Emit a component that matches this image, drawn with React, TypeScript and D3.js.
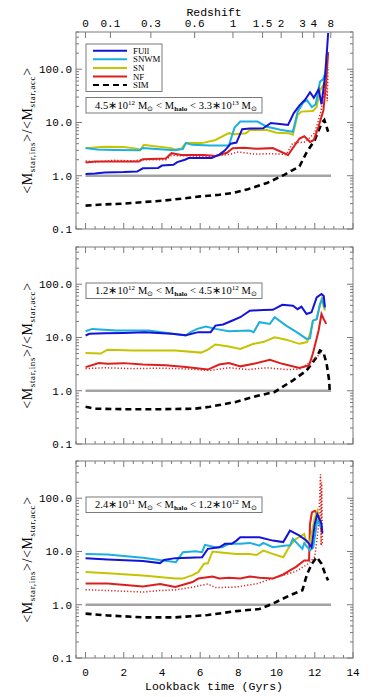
import React from 'react'
import * as d3 from 'd3'

type Pt = [number, number]

// tick labels
const redshiftTicks = [0, 0.1, 0.3, 0.6, 1, 1.5, 2, 3, 4, 8]
const timeTicks = [0, 2, 4, 6, 8, 10, 12, 14]
const ratioTicks = [0.1, 1, 10, 100]
const legendNames = ['FUll', 'SNWM', 'SN', 'NF', 'SIM']
// halo mass bins: [lo mantissa, lo exponent, hi mantissa, hi exponent]
const massBins = [['4.5', '12', '3.3', '13'], ['1.2', '12', '4.5', '12'], ['2.4', '11', '1.2', '12']]

// panel 1: 4.5e12 - 3.3e13
const fullHigh: Pt[] = [[0,1.08],[0.5,1.1],[1,1.15],[2,1.17],[2.7,1.2],[3.0,1.38],[3.8,1.4],[4.0,1.55],[4.6,1.6],[4.8,1.8],[5.2,2.0],[5.4,2.15],[6.6,2.15],[7.0,2.5],[7.3,3.0],[7.6,4.0],[7.9,4.2],[8.2,7.5],[8.6,7.7],[9.3,7.8],[9.7,9.8],[10.4,9.2],[10.6,9.0],[10.9,15],[11.2,21],[11.5,27],[11.75,37],[11.95,29],[12.2,42],[12.35,22],[12.55,80],[12.7,480]]
const snwmHigh: Pt[] = [[0,3.3],[0.6,3.1],[1.5,3.05],[2.8,3.0],[3.0,3.3],[3.5,3.2],[4.7,3.0],[5.1,3.2],[5.25,4.1],[5.6,3.8],[6.5,3.7],[7.5,3.7],[7.8,8.0],[8.1,10.4],[9.0,10.4],[9.5,8.3],[10.2,7.3],[10.85,6.7],[11.1,15.7],[11.4,24],[11.6,26],[11.85,19.5],[12.05,22],[12.27,58],[12.45,66],[12.6,100]]
const snHigh: Pt[] = [[0,3.3],[0.5,3.4],[1.0,3.5],[2.0,3.45],[2.75,3.2],[2.85,3.0],[3.05,3.8],[3.5,3.6],[4.5,3.3],[4.7,3.1],[5.0,3.2],[5.25,4.1],[6.1,4.1],[6.8,4.7],[7.5,6.3],[7.8,6.0],[8.4,6.3],[8.6,7.2],[9.5,7.2],[10.0,6.4],[10.6,6.3],[10.85,5.9],[11.1,13.8],[11.3,16],[11.9,16.4],[12.1,19.7],[12.27,40],[12.5,54],[12.62,195]]
const nfHigh: Pt[] = [[0,1.77],[0.5,1.85],[1.5,1.85],[2.8,1.85],[3.0,2.05],[4.2,2.1],[4.5,2.65],[5.0,2.45],[6.2,2.45],[6.8,2.35],[7.4,2.7],[7.7,3.3],[8.3,3.35],[9.0,3.2],[9.8,3.3],[10.6,2.45],[11.2,5.0],[11.45,5.5],[11.75,4.3],[11.95,4.7],[12.2,8.4],[12.45,17],[12.6,60],[12.7,210]]
const nfDotHigh: Pt[] = [[0,1.9],[0.5,1.8],[1.5,1.95],[2.5,1.9],[3.0,2.0],[4.2,2.0],[4.5,2.4],[5.5,2.35],[6.5,2.3],[7.5,2.5],[8.0,2.8],[8.8,2.55],[9.8,2.6],[10.5,2.5],[10.85,4.1],[11.5,4.3],[12.0,6.4],[12.3,15],[12.5,40],[12.6,90],[12.65,25],[12.7,110]]
const simHigh: Pt[] = [[0,0.275],[1,0.29],[2,0.3],[3,0.32],[4,0.34],[5,0.37],[6,0.41],[7,0.44],[7.7,0.475],[8.5,0.56],[9.5,0.73],[10.4,1.04],[11.2,1.5],[11.55,2.65],[12.0,4.7],[12.35,9.6],[12.5,11.1],[12.7,6.7]]

// panel 2: 1.2e12 - 4.5e12
const fullMid: Pt[] = [[0,10.9],[0.2,11.7],[1,12],[2,12.2],[3.1,12.6],[4.5,11.8],[5.25,11.0],[5.9,12.6],[6.55,12.6],[6.8,16.7],[7.2,17.5],[7.6,20.2],[8.1,24],[8.6,31.9],[9.3,32.8],[9.8,33],[10.3,41],[10.86,39.6],[11.1,34],[11.3,38],[11.57,27.6],[11.83,29.7],[12.1,56.7],[12.35,65.6],[12.47,60],[12.53,37]]
const snwmMid: Pt[] = [[0,13.1],[0.35,14.5],[1.6,13.5],[3.3,13.5],[5.25,10.9],[5.5,12.6],[5.85,14.5],[6.3,16],[6.8,14.5],[7.5,13.1],[8.6,13.5],[8.8,12.6],[9.1,19.4],[9.65,18],[9.9,24],[10.5,16.7],[11.05,12.6],[11.57,9.4],[11.75,9.6],[11.9,20.7],[12.1,22],[12.27,42.5],[12.4,52.7],[12.53,35]]
const snMid: Pt[] = [[0,5.1],[0.8,5.0],[1.15,5.9],[2.5,5.7],[4.7,5.7],[6.05,5.2],[6.4,5.9],[6.8,7.4],[7.5,6.8],[8.1,6.1],[8.8,7.6],[9.3,8.2],[9.9,10.1],[10.5,9.1],[11.2,7.6],[11.6,8.2],[11.75,11.7],[11.9,20.7],[12.1,22],[12.35,52.7],[12.53,32]]
const nfMid: Pt[] = [[0,2.78],[0.7,3.3],[1.15,3.2],[2.0,3.3],[3.0,3.1],[4.2,3.0],[5.25,2.78],[6.4,2.5],[7.0,3.1],[7.5,3.3],[7.9,3.0],[8.1,2.87],[8.8,3.2],[9.65,3.8],[10.3,3.2],[11.2,2.67],[11.7,3.0],[11.9,5.0],[12.2,13.5],[12.35,27.6],[12.47,22],[12.6,18]]
const nfDotMid: Pt[] = [[0,2.6],[1,2.7],[2.5,2.6],[4,2.65],[5.5,2.55],[6.5,2.4],[7.5,2.7],[8.5,2.5],[9.5,2.7],[10.5,2.5],[11.2,2.55],[11.75,3.4],[12.1,4.3],[12.3,5]]
const simMid: Pt[] = [[0,0.5],[0.5,0.46],[2,0.45],[4,0.45],[5.7,0.46],[6.5,0.5],[7.0,0.54],[7.9,0.62],[8.8,0.77],[9.9,0.95],[10.86,1.57],[11.57,2.4],[12.1,4.3],[12.27,5.7],[12.45,5.3],[12.62,3.2],[12.75,1.57],[12.78,1.0]]

// panel 3: 2.4e11 - 1.2e12
const fullLow: Pt[] = [[0,7.5],[1.15,7.1],[3.0,6.6],[3.9,6.05],[4.1,6.9],[4.7,7.5],[6.1,7.8],[6.4,11.2],[7.0,12],[7.3,13.9],[7.65,13.9],[7.9,16],[8.1,18.5],[9.1,18.5],[9.8,16],[10.35,15],[10.7,24.6],[11.2,19.9],[11.57,16],[11.83,12],[12.0,33],[12.13,50],[12.35,33],[12.4,22]]
const snwmLow: Pt[] = [[0,9.0],[1.15,8.8],[3.0,7.6],[4.73,6.3],[5.1,9.7],[5.75,10.1],[6.1,9.7],[6.25,13.3],[6.8,12],[7.15,12],[7.5,13.9],[8.1,13.9],[8.6,14.5],[9.1,12.9],[9.3,14.5],[9.8,12],[10.5,12.9],[10.7,12.9],[10.85,17.3],[11.35,11.2],[11.45,14.4],[11.75,10.4],[11.92,12],[12.13,38],[12.35,28.5]]
const snLow: Pt[] = [[0,4.1],[1.15,3.9],[3.0,3.55],[4.7,3.1],[5.1,3.1],[5.6,3.6],[5.9,4.1],[6.2,5.9],[6.4,6],[6.65,10],[7.2,9.5],[7.9,9],[8.6,9],[8.95,8.6],[9.3,10.4],[9.8,9],[10.35,7.8],[10.7,12.9],[11.0,17],[11.45,21.3],[11.55,15],[11.75,15],[12.0,43.6],[12.13,58],[12.35,28]]
const nfLow: Pt[] = [[0,2.5],[1.15,2.5],[3.0,2.2],[3.9,2.45],[4.7,2.15],[5.6,2.67],[5.9,3.1],[6.65,3.4],[7.0,3.1],[7.5,3.2],[8.1,3.1],[8.6,3.4],[9.1,3.2],[9.8,3.1],[10.35,3.7],[10.7,4.4],[11.0,5.1],[11.45,6.8],[11.7,6.8],[11.75,33],[11.85,54],[12.0,58],[12.2,47],[12.35,24.6]]
const nfDotLow: Pt[] = [[0,1.92],[1.15,1.85],[3.0,1.73],[3.9,1.85],[4.7,1.9],[5.5,2.1],[6.4,2.45],[6.8,2.1],[7.9,2.15],[9,2.5],[10,3.3],[11,4.2],[11.7,6],[12.0,8],[12.2,30],[12.3,282],[12.33,13],[12.36,200],[12.4,13]]
const simLow: Pt[] = [[0,0.68],[1.15,0.63],[3,0.58],[4.7,0.58],[6.4,0.64],[7.9,0.76],[9.1,0.83],[9.8,1.05],[10.7,1.5],[11.35,1.87],[11.6,3.8],[11.85,5.9],[12.1,7.8],[12.35,5.9],[12.57,3.55],[12.7,2.87]]

const unity: Pt[] = [[0, 1], [12.85, 1]]

const panels = [
  {full: fullHigh, snwm: snwmHigh, sn: snHigh, nf: nfHigh, nfDot: nfDotHigh, sim: simHigh},
  {full: fullMid, snwm: snwmMid, sn: snMid, nf: nfMid, nfDot: nfDotMid, sim: simMid},
  {full: fullLow, snwm: snwmLow, sn: snLow, nf: nfLow, nfDot: nfDotLow, sim: simLow},
]

const BLUE = '#1414d6'
const CYAN = '#1cb0e0'
const YELLOW = '#c4c400'
const RED = '#dc1f1f'
const FRAME = '#7a7a7a'
const legendColors = [BLUE, CYAN, YELLOW, RED, '#000']

const W = 374
const H = 697
const LEFT = 76
const RIGHT = 353
const TOPS = [32, 247, 461]
const PH = 197
const TXT = 'Liberation Mono, monospace'
const SERIF = 'Liberation Serif, serif'

// lookback time (Gyr) for flat LCDM, H0=70, Om=0.3
const lookback = (z: number) => {
  const hubble = 977.8 / 70
  const ol = 0.7, om = 0.3
  const age = (zz: number) => (2 / (3 * Math.sqrt(ol))) * hubble * Math.asinh(Math.sqrt(ol / om) * Math.pow(1 + zz, -1.5))
  return age(0) - age(z)
}

const x = d3.scaleLinear().domain([-0.5, 14]).range([LEFT, RIGHT])
const fmt = d3.format('.1f')

const MassLabel = ({bin, px, py}: {bin: string[], px: number, py: number}) => (
  <g>
    <rect x={86} y={py} width={176} height={15.5} fill="white" stroke={FRAME} strokeWidth={1}/>
    <text x={px} y={py + 11.2} fontFamily={SERIF} fontSize={10.5} textLength={162} lengthAdjust="spacing">
      {bin[0]}∗10<tspan dy={-4} fontSize={7}>{bin[1]}</tspan>
      <tspan dy={4}> M</tspan><tspan dy={2} fontSize={7}>⊙</tspan>
      <tspan dy={-2}> &lt; M</tspan><tspan dy={2} fontSize={7} fontWeight="bold">halo</tspan>
      <tspan dy={-2}> &lt; {bin[2]}∗10</tspan><tspan dy={-4} fontSize={7}>{bin[3]}</tspan>
      <tspan dy={4}> M</tspan><tspan dy={2} fontSize={7}>⊙</tspan>
    </text>
  </g>
)

const Panel = ({idx}: {idx: number}) => {
  const top = TOPS[idx]
  const bottom = top + PH
  const y = d3.scaleLog().domain([0.1, 500]).range([bottom, top])
  const line = d3.line<Pt>().x(d => x(d[0])).y(d => y(d[1]))
  const p = panels[idx]

  const minorY: number[] = []
  for (const dec of [0.1, 1, 10, 100]) {
    for (let k = 2; k <= 9; k++) if (dec * k <= 500) minorY.push(dec * k)
  }
  const minorX = d3.range(-0.5, 14.01, 0.5).filter(v => v % 2 !== 0)

  const midY = top + PH / 2

  return (
    <g>
      <path d={line(unity) || ''} fill="none" stroke="#a3a3a3" strokeWidth={2.5}/>
      <path d={line(p.sim) || ''} fill="none" stroke="#000" strokeWidth={2.6} strokeDasharray="6,4"/>
      <path d={line(p.nfDot) || ''} fill="none" stroke={RED} strokeWidth={1.5} strokeDasharray="1.2,2"/>
      <path d={line(p.nf) || ''} fill="none" stroke={RED} strokeWidth={2}/>
      <path d={line(p.sn) || ''} fill="none" stroke={YELLOW} strokeWidth={2}/>
      <path d={line(p.snwm) || ''} fill="none" stroke={CYAN} strokeWidth={2}/>
      <path d={line(p.full) || ''} fill="none" stroke={BLUE} strokeWidth={2}/>

      <rect x={LEFT} y={top} width={RIGHT - LEFT} height={PH} fill="none" stroke={FRAME} strokeWidth={1}/>

      {ratioTicks.map(v => (
        <g key={'my' + v}>
          <line x1={LEFT} x2={LEFT + 6} y1={y(v)} y2={y(v)} stroke={FRAME}/>
          <line x1={RIGHT} x2={RIGHT - 6} y1={y(v)} y2={y(v)} stroke={FRAME}/>
          <text x={72} y={y(v)} dy="0.35em" textAnchor="end" fontFamily={TXT} fontSize={11}>{fmt(v)}</text>
        </g>
      ))}
      {minorY.map(v => (
        <g key={'ny' + v}>
          <line x1={LEFT} x2={LEFT + 3} y1={y(v)} y2={y(v)} stroke={FRAME}/>
          <line x1={RIGHT} x2={RIGHT - 3} y1={y(v)} y2={y(v)} stroke={FRAME}/>
        </g>
      ))}

      {timeTicks.map(v => (
        <g key={'mx' + v}>
          <line x1={x(v)} x2={x(v)} y1={bottom} y2={bottom - 6} stroke={FRAME}/>
          {idx > 0 && <line x1={x(v)} x2={x(v)} y1={top} y2={top + 6} stroke={FRAME}/>}
          {idx === 2 && <text x={x(v)} y={bottom + 18} textAnchor="middle" fontFamily={TXT} fontSize={11}>{v}</text>}
        </g>
      ))}
      {minorX.map(v => (
        <g key={'nx' + v}>
          <line x1={x(v)} x2={x(v)} y1={bottom} y2={bottom - 3} stroke={FRAME}/>
          {idx > 0 && <line x1={x(v)} x2={x(v)} y1={top} y2={top + 3} stroke={FRAME}/>}
        </g>
      ))}
      {idx === 0 && redshiftTicks.map(z => (
        <g key={'z' + z}>
          <line x1={x(lookback(z))} x2={x(lookback(z))} y1={top} y2={top + 6} stroke={FRAME}/>
          <text x={x(lookback(z))} y={top - 5} textAnchor="middle" fontFamily={TXT} fontSize={11}>{z}</text>
        </g>
      ))}

      <text transform={`translate(32,${midY}) rotate(-90)`} textAnchor="middle" fontFamily={SERIF} fontSize={14} letterSpacing={0.6}>
        &lt;M<tspan dy={3} fontSize={9}>star,ins</tspan><tspan dy={-3}>&gt;/&lt;M</tspan><tspan dy={3} fontSize={9}>star,acc</tspan><tspan dy={-3}>&gt;</tspan>
      </text>

      {idx === 0 && (
        <g>
          <rect x={86} y={44} width={76} height={47.5} fill="white" stroke={FRAME} strokeWidth={1}/>
          {legendNames.map((n, i) => (
            <g key={n}>
              <line x1={93} x2={127} y1={50.7 + i * 8.6} y2={50.7 + i * 8.6} stroke={legendColors[i]} strokeWidth={2}
                strokeDasharray={n === 'SIM' ? '6,4' : undefined}/>
              <text x={133} y={50.7 + i * 8.6 + 3} fontFamily={SERIF} fontSize={8.8}>{n}</text>
            </g>
          ))}
        </g>
      )}

      <MassLabel bin={massBins[idx]} px={95} py={idx === 0 ? top + 65.5 : top + 36}/>
    </g>
  )
}

const App = () => {
  return (
    <svg width={W} height={H} style={{position: 'absolute', left: 0, top: 0, background: 'white'}}>
      <text x={214} y={16} textAnchor="middle" fontFamily={TXT} fontSize={11.5}>Redshift</text>
      {[0, 1, 2].map(i => <Panel key={i} idx={i}/>)}
      <text x={214} y={690} textAnchor="middle" fontFamily={TXT} fontSize={11.5}>Lookback time (Gyrs)</text>
    </svg>
  )
}

export default App
